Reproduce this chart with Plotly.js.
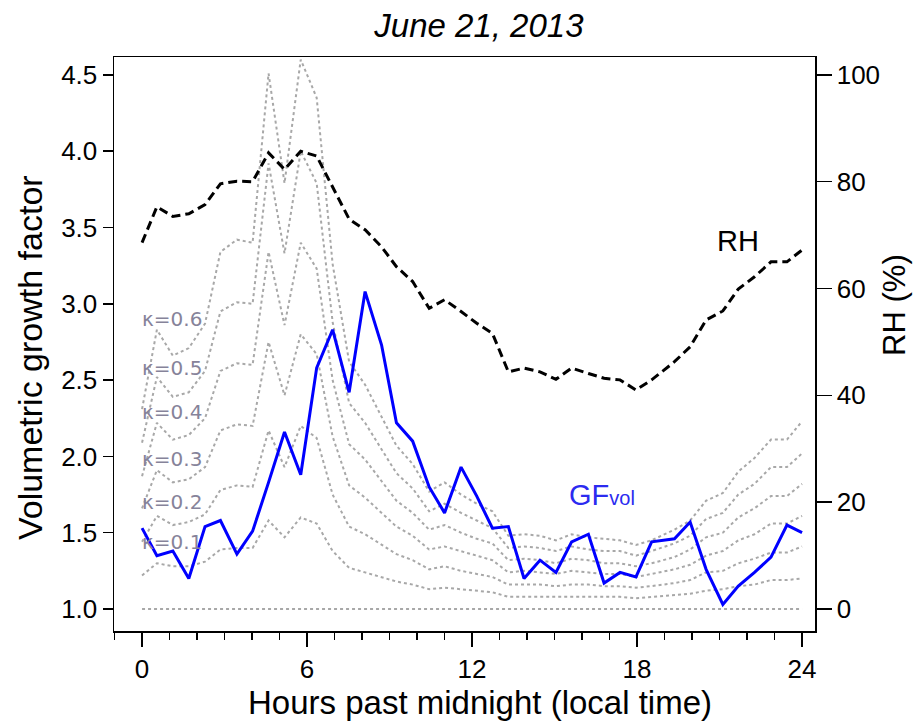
<!DOCTYPE html>
<html>
<head>
<meta charset="utf-8">
<script src="https://cdn.plot.ly/plotly-3.0.1.min.js"></script>
<style>html,body{margin:0;padding:0;background:#fff;}#chart{width:914px;height:722px;}</style>
</head>
<body>
<div id="chart"></div>
<script>
// Hours past midnight (local time)
var hours = [0, 0.54, 1.12, 1.70, 2.29, 2.85, 3.45, 4.02, 4.60, 5.18, 5.77, 6.35, 6.93, 7.53, 8.11, 8.71, 9.25, 9.84, 10.44, 11.00, 11.60, 12.17, 12.74, 13.32, 13.89, 14.47, 15.05, 15.62, 16.23, 16.80, 17.38, 17.96, 18.53, 19.36, 19.93, 20.51, 21.12, 21.68, 22.27, 22.87, 23.45, 24.00];
// Measured volumetric growth factor
var gfVol = [1.53, 1.35, 1.38, 1.20, 1.54, 1.58, 1.36, 1.51, 1.83, 2.16, 1.88, 2.58, 2.83, 2.42, 3.08, 2.73, 2.22, 2.10, 1.80, 1.63, 1.93, 1.74, 1.53, 1.54, 1.20, 1.32, 1.24, 1.44, 1.49, 1.17, 1.24, 1.21, 1.44, 1.46, 1.57, 1.26, 1.03, 1.15, 1.24, 1.34, 1.55, 1.50];
// Relative humidity (%)
var rh = [68.6, 75.3, 73.5, 74.0, 75.7, 79.6, 80.1, 80.0, 85.4, 82.3, 85.7, 84.8, 79.0, 73.0, 71.0, 67.8, 64.1, 61.3, 56.3, 57.9, 55.7, 53.5, 51.6, 44.4, 45.1, 44.4, 43.0, 45.1, 44.1, 43.2, 42.9, 41.0, 42.9, 46.3, 49.1, 54.1, 55.8, 59.9, 62.2, 65.0, 65.0, 67.2];
// Growth factor curves for hygroscopicity kappa
var kappa0Hours = [0, 24];
var kappa0 = [1.0, 1.0];
var kappa01 = [1.22,1.30,1.28,1.28,1.31,1.39,1.40,1.40,1.58,1.47,1.60,1.56,1.38,1.27,1.24,1.21,1.18,1.16,1.13,1.14,1.13,1.12,1.11,1.08,1.08,1.08,1.08,1.08,1.08,1.08,1.08,1.07,1.08,1.09,1.10,1.12,1.13,1.15,1.16,1.19,1.19,1.20];
var kappa02 = [1.44,1.61,1.55,1.57,1.62,1.78,1.81,1.80,2.17,1.93,2.20,2.12,1.75,1.54,1.49,1.42,1.36,1.32,1.26,1.28,1.25,1.23,1.21,1.16,1.16,1.16,1.15,1.16,1.16,1.15,1.15,1.14,1.15,1.17,1.19,1.24,1.25,1.30,1.33,1.37,1.37,1.41];
var kappa03 = [1.66,1.91,1.83,1.85,1.93,2.17,2.21,2.20,2.75,2.40,2.80,2.67,2.13,1.81,1.73,1.63,1.54,1.48,1.39,1.41,1.38,1.35,1.32,1.24,1.25,1.24,1.23,1.25,1.24,1.23,1.23,1.21,1.23,1.26,1.29,1.35,1.38,1.45,1.49,1.56,1.56,1.61];
var kappa04 = [1.87,2.22,2.11,2.14,2.25,2.56,2.61,2.60,3.34,2.86,3.40,3.23,2.50,2.08,1.98,1.84,1.71,1.63,1.52,1.55,1.50,1.46,1.43,1.32,1.33,1.32,1.30,1.33,1.32,1.30,1.30,1.28,1.30,1.34,1.39,1.47,1.50,1.60,1.66,1.74,1.74,1.82];
var kappa05 = [2.09,2.52,2.39,2.42,2.56,2.95,3.01,3.00,3.92,3.33,4.00,3.79,2.88,2.35,2.22,2.05,1.89,1.79,1.64,1.69,1.63,1.58,1.53,1.40,1.41,1.40,1.38,1.41,1.39,1.38,1.38,1.35,1.38,1.43,1.48,1.59,1.63,1.75,1.82,1.93,1.93,2.02];
var kappa06 = [2.31,2.83,2.66,2.71,2.87,3.34,3.42,3.40,4.51,3.79,4.60,4.35,3.26,2.62,2.47,2.26,2.07,1.95,1.77,1.83,1.75,1.69,1.64,1.48,1.49,1.48,1.45,1.49,1.47,1.46,1.45,1.42,1.45,1.52,1.58,1.71,1.76,1.90,1.99,2.11,2.11,2.23];
var kappaLabels = ['κ=0.6', 'κ=0.5', 'κ=0.4', 'κ=0.3', 'κ=0.2', 'κ=0.1'];
var kappaLabelY = [2.90, 2.58, 2.29, 1.98, 1.70, 1.44];
var gfTicks = [1.0, 1.5, 2.0, 2.5, 3.0, 3.5, 4.0, 4.5];
var rhTicks = [0, 20, 40, 60, 80, 100];
var hourTicks = [0, 6, 12, 18, 24];

var FONT = 'Liberation Sans, Arial, Helvetica, sans-serif';
var grayDot = {color: '#a8a8a8', width: 2, dash: '3px,3px'};

var traces = [];
[kappa01, kappa02, kappa03, kappa04, kappa05, kappa06].forEach(function (k) {
  traces.push({x: hours, y: k, type: 'scatter', mode: 'lines', line: grayDot, hoverinfo: 'skip'});
});
traces.push({x: kappa0Hours, y: kappa0, type: 'scatter', mode: 'lines', line: grayDot, hoverinfo: 'skip'});
traces.push({x: hours, y: rh, yaxis: 'y2', type: 'scatter', mode: 'lines',
  line: {color: '#000000', width: 3, dash: '9px,5px'}});
traces.push({x: hours, y: gfVol, type: 'scatter', mode: 'lines',
  line: {color: '#0000ff', width: 3}});

var annotations = kappaLabels.map(function (t, i) {
  return {x: -0.08, y: kappaLabelY[i], xref: 'x', yref: 'y', text: t, showarrow: false,
    xanchor: 'left', yanchor: 'middle', font: {family: 'DejaVu Sans, sans-serif', size: 20, color: '#86839a'}};
});
annotations.push({x: 21.67, y: 3.41, xref: 'x', yref: 'y', text: 'RH', showarrow: false,
  xanchor: 'center', yanchor: 'middle', font: {family: FONT, size: 29, color: '#000000'}});
annotations.push({x: 15.45, y: 1.75, xref: 'x', yref: 'y',
  text: 'GF<span style="font-size:20px">vol</span>', showarrow: false,
  xanchor: 'left', yanchor: 'middle', font: {family: FONT, size: 29, color: '#2b2bf0'}});
// axis titles (placed to match the reference positions)
annotations.push({x: 0.522, y: -0.124, xref: 'paper', yref: 'paper', text: 'Hours past midnight (local time)',
  showarrow: false, xanchor: 'center', yanchor: 'middle', font: {family: FONT, size: 33, color: '#000'}});
annotations.push({x: -0.120, y: 0.477, xref: 'paper', yref: 'paper', text: 'Volumetric growth factor',
  textangle: -90, showarrow: false, xanchor: 'center', yanchor: 'middle', font: {family: FONT, size: 34, color: '#000'}});
annotations.push({x: 1.114, y: 0.568, xref: 'paper', yref: 'paper', text: 'RH (%)',
  textangle: -90, showarrow: false, xanchor: 'center', yanchor: 'middle', font: {family: FONT, size: 31, color: '#000'}});

var layout = {
  width: 914, height: 722,
  margin: {l: 114, r: 99, t: 57, b: 91, pad: 0},
  paper_bgcolor: '#ffffff', plot_bgcolor: '#ffffff',
  showlegend: false, hovermode: false,
  font: {family: FONT, color: '#000000'},
  title: {text: '<i>June 21, 2013</i>', x: 0.524, xref: 'container', y: 0.965, yref: 'container',
    xanchor: 'center', yanchor: 'middle', font: {family: FONT, size: 33, color: '#000000'}},
  xaxis: {
    range: [-1.02, 24.47], tickvals: hourTicks, ticks: 'outside', ticklen: 14, tickwidth: 1.5,
    tickcolor: '#000', showline: true, linecolor: '#000', linewidth: 1.5, mirror: true,
    showgrid: false, zeroline: false, tickfont: {size: 26},
    minor: {dtick: 1, tick0: 0, ticks: 'outside', ticklen: 7, tickwidth: 1.5, tickcolor: '#000', showgrid: false}
  },
  yaxis: {
    range: [0.856, 4.617], tickvals: gfTicks, tickformat: '.1f', ticks: 'outside', ticklen: 10,
    tickwidth: 1.5, tickcolor: '#000', showline: true, linecolor: '#000', linewidth: 1.5,
    showgrid: false, zeroline: false, tickfont: {size: 26}
  },
  yaxis2: {
    overlaying: 'y', side: 'right', range: [-4.11, 103.34], tickvals: rhTicks, ticks: 'outside',
    ticklen: 15, tickwidth: 1.5, tickcolor: '#000', showline: true, linecolor: '#000', linewidth: 1.5,
    showgrid: false, zeroline: false, tickfont: {size: 26}
  },
  annotations: annotations
};

Plotly.newPlot('chart', traces, layout, {staticPlot: true, displayModeBar: false});
</script>
</body>
</html>
